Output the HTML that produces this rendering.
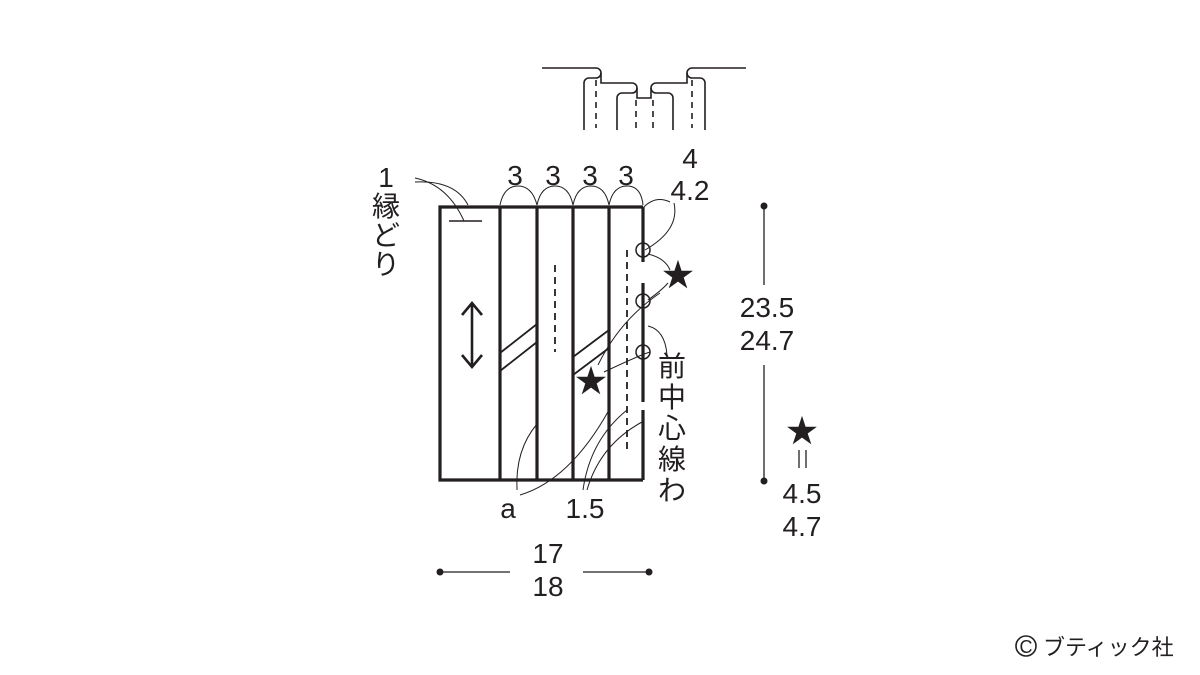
<!DOCTYPE html>
<html><head><meta charset="utf-8"><style>
body{margin:0;background:#fff}
svg{display:block}
text{font-family:"Liberation Sans","Noto Sans CJK JP",sans-serif;fill:#231f20}
</style></head><body>
<svg width="1200" height="675" viewBox="0 0 1200 675" xmlns="http://www.w3.org/2000/svg">
<g fill="none" stroke="#231f20">
<g stroke-width="1.6">
<path d="M542 68 H596 a5 5 0 0 1 0 10 H589 a5 5 0 0 0 -5 5 V130"/>
<path d="M601 73 V83 H632 a5 5 0 0 1 0 10 H622 a5 5 0 0 0 -5 5 V130"/>
<path d="M637 88 V98 H651 V88"/>
<path d="M746 68 H692 a5 5 0 0 0 0 10 H700 a5 5 0 0 1 5 5 V130"/>
<path d="M687 73 V83 H656 a5 5 0 0 0 0 10 H668 a5 5 0 0 1 5 5 V130"/>
</g>
<g stroke-width="1.6" stroke-dasharray="6 5">
<line x1="596" y1="80" x2="596" y2="128"/><line x1="636" y1="100" x2="636" y2="128"/>
<line x1="653" y1="100" x2="653" y2="128"/><line x1="692" y1="80" x2="692" y2="128"/>
</g>
<g stroke-width="3.2">
<path d="M643 207 H440 V480 H643"/>
<line x1="500" y1="207" x2="500" y2="480"/>
<line x1="537" y1="207" x2="537" y2="480"/>
<line x1="573" y1="207" x2="573" y2="480"/>
<line x1="609" y1="207" x2="609" y2="480"/>
<line x1="643" y1="207" x2="643" y2="262"/>
<line x1="643" y1="283" x2="643" y2="402"/>
<line x1="643" y1="410" x2="643" y2="480"/>
</g>
<line x1="449" y1="221" x2="482" y2="221" stroke-width="1.5"/>
<g stroke-width="1.8">
<path d="M500 353 L537 324 M500 371 L537 342"/>
<path d="M573 357 L609 330 M573 375 L609 348"/>
</g>
<g stroke-width="1.8" stroke-dasharray="7 5">
<line x1="555" y1="265" x2="555" y2="352"/>
<line x1="627" y1="250" x2="627" y2="452"/>
</g>
<path d="M472 305 V365 M462 315 L472 303 L482 315 M462 355 L472 367 L482 355" stroke-width="2.6"/>
<g stroke-width="1.5">
<circle cx="643" cy="250" r="7"/><circle cx="643" cy="301" r="7"/><circle cx="643" cy="352" r="7"/>
</g>
<g stroke-width="1">
<path d="M415 178 Q448 185 464 221"/>
<path d="M415 182 Q455 180 468 205"/>
<path d="M500 205 Q504 186 518 186 Q532 186 537 205 Q541 186 555 186 Q569 186 573 205 Q577 186 591 186 Q605 186 609 205 Q613 186 627 186 Q641 186 643 205"/>
<path d="M643 208 Q655 195 670 202"/>
<path d="M645 250 Q680 230 674 203"/>
<path d="M648 254 Q665 258 670 270"/>
<path d="M648 300 Q662 290 668 283 M598 365 Q620 320 660 293"/>
<path d="M604 372 Q640 355 650 352"/>
<path d="M648 326 Q665 330 667 355"/>
<path d="M537 424 Q515 450 517 490"/>
<path d="M609 410 Q570 480 520 495"/>
<path d="M627 410 Q590 440 583 490"/>
<path d="M642 422 Q600 445 587 490"/>
</g>
<g stroke-width="1.3">
<line x1="764" y1="206" x2="764" y2="285"/><line x1="764" y1="365" x2="764" y2="481"/>
<line x1="440" y1="572" x2="510" y2="572"/><line x1="583" y1="572" x2="649" y2="572"/>
<line x1="799" y1="450" x2="799" y2="468"/><line x1="806" y1="450" x2="806" y2="468"/>
</g>
<circle cx="1026" cy="646" r="10" stroke-width="1.6"/>
</g>
<g fill="#231f20">
<circle cx="764" cy="206" r="3.5"/><circle cx="764" cy="481" r="3.5"/>
<circle cx="440" cy="572" r="3.5"/><circle cx="649" cy="572" r="3.5"/>
</g>
<g font-size="28" text-anchor="middle">
<text x="515" y="185">3</text><text x="553" y="185">3</text><text x="590" y="185">3</text><text x="626" y="185">3</text>
<text x="690" y="168">4</text><text x="690" y="200">4.2</text>
<text x="767" y="317">23.5</text><text x="767" y="350">24.7</text>
<text x="802" y="503">4.5</text><text x="802" y="536">4.7</text>
<text x="548" y="563">17</text><text x="548" y="596">18</text>
<text x="508" y="518">a</text><text x="585" y="518">1.5</text>
<text x="386" y="187">1</text><text x="386" y="216">縁</text><text x="386" y="245">ど</text><text x="386" y="274">り</text>
<text x="672" y="376">前</text><text x="672" y="407">中</text><text x="672" y="438">心</text><text x="672" y="469">線</text><text x="672" y="500">わ</text>
<text x="678" y="286" font-size="32">★</text>
<text x="591" y="392" font-size="32">★</text>
<text x="802" y="442" font-size="32">★</text>
<text x="1026" y="653" font-size="18">C</text>
</g>
<text x="1043" y="655" font-size="22">ブティック社</text>
</svg>
</body></html>
